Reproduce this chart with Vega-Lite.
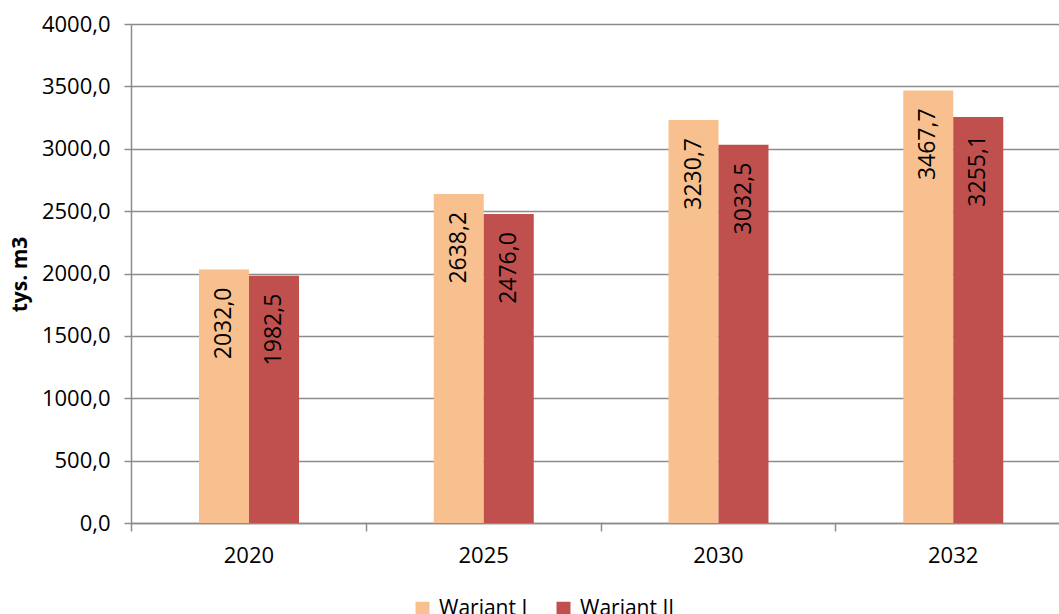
{
  "$schema": "https://vega.github.io/schema/vega-lite/v6.json",
  "width": 939,
  "height": 499,
  "autosize": {"type": "none"},
  "padding": {"left": 131, "top": 24, "right": 0, "bottom": 91},
  "background": "white",
  "config": {
    "locale": {"number": {"decimal": ",", "thousands": " ", "grouping": [3], "currency": ["", " zł"]}},
    "view": {"stroke": null},
    "font": "Open Sans",
    "axis": {
      "domainColor": "#8c8c8c",
      "domainWidth": 1.5,
      "tickColor": "#8c8c8c",
      "tickWidth": 1.5,
      "gridColor": "#8c8c8c",
      "gridWidth": 1.5,
      "labelColor": "#000000",
      "labelFont": "Open Sans",
      "labelFontSize": 22,
      "titleColor": "#000000",
      "titleFont": "Open Sans"
    },
    "legend": {"padding": 0}
  },
  "data": {
    "values": [
      {"rok": "2020", "wariant": "Wariant I", "wartosc": 2032.0},
      {"rok": "2020", "wariant": "Wariant II", "wartosc": 1982.5},
      {"rok": "2025", "wariant": "Wariant I", "wartosc": 2638.2},
      {"rok": "2025", "wariant": "Wariant II", "wartosc": 2476.0},
      {"rok": "2030", "wariant": "Wariant I", "wartosc": 3230.7},
      {"rok": "2030", "wariant": "Wariant II", "wartosc": 3032.5},
      {"rok": "2032", "wariant": "Wariant I", "wartosc": 3467.7},
      {"rok": "2032", "wariant": "Wariant II", "wartosc": 3255.1}
    ]
  },
  "encoding": {
    "x": {
      "field": "rok",
      "type": "nominal",
      "scale": {"paddingInner": 0, "paddingOuter": 0},
      "axis": {
        "title": null,
        "labelAngle": 0,
        "tickBand": "extent",
        "tickSize": 8,
        "labelPadding": 14,
        "grid": false
      }
    },
    "xOffset": {
      "field": "wariant",
      "type": "nominal",
      "sort": ["Wariant I", "Wariant II"],
      "scale": {"range": [68, 168], "paddingInner": 0, "paddingOuter": 0}
    },
    "y": {
      "field": "wartosc",
      "type": "quantitative",
      "scale": {"domain": [0, 4000], "nice": false},
      "axis": {
        "values": [0, 500, 1000, 1500, 2000, 2500, 3000, 3500, 4000],
        "format": ".1f",
        "grid": true,
        "tickSize": 7,
        "labelPadding": 14,
        "title": "tys. m3",
        "titleFontSize": 21,
        "titleFontWeight": "bold",
        "titleAngle": 270,
        "titleX": -111,
        "titleY": 250,
        "titleAlign": "center",
        "titleBaseline": "middle"
      }
    }
  },
  "layer": [
    {
      "mark": {"type": "bar"},
      "encoding": {
        "color": {
          "field": "wariant",
          "type": "nominal",
          "scale": {"domain": ["Wariant I", "Wariant II"], "range": ["#F9C08F", "#C0504D"]},
          "legend": {
            "orient": "none",
            "legendX": 281,
            "legendY": 574,
            "direction": "horizontal",
            "title": null,
            "symbolType": "square",
            "symbolSize": 196,
            "symbolStrokeWidth": 0,
            "labelFontSize": 21,
            "labelFont": "Open Sans",
            "labelColor": "#000000",
            "labelOffset": 6,
            "columnPadding": 25
          }
        }
      }
    },
    {
      "mark": {"type": "text", "angle": 270, "align": "right", "baseline": "middle", "dx": -18, "fontSize": 23, "font": "Open Sans", "color": "#000000"},
      "encoding": {
        "text": {"field": "wartosc", "type": "quantitative", "format": ".1f"}
      }
    }
  ]
}
